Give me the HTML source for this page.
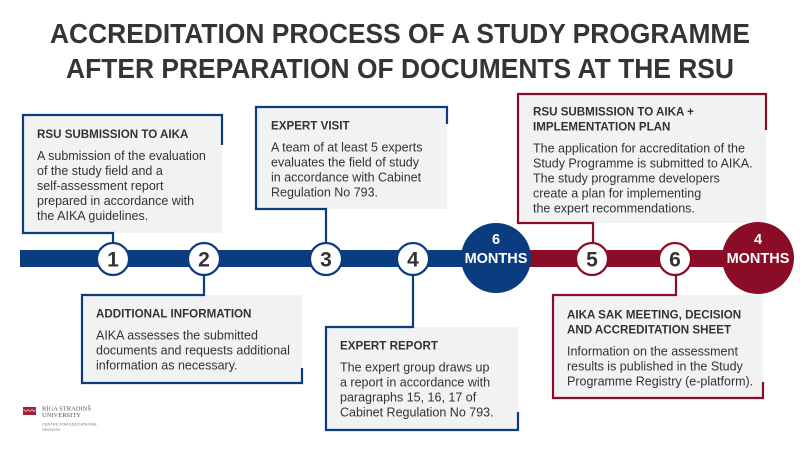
<!DOCTYPE html>
<html>
<head>
<meta charset="utf-8">
<style>
html,body{margin:0;padding:0;background:#fff;}
svg{display:block;}
</style>
</head>
<body>
<svg width="800" height="450" viewBox="0 0 800 450" xmlns="http://www.w3.org/2000/svg">
  <rect width="800" height="450" fill="#ffffff"/>

  <!-- Title -->
  <g font-family="Liberation Sans, sans-serif" font-weight="bold" font-size="28" fill="#343434">
    <text x="50" y="43" textLength="700" lengthAdjust="spacingAndGlyphs">ACCREDITATION PROCESS OF A STUDY PROGRAMME</text>
    <text x="66" y="78" textLength="668" lengthAdjust="spacingAndGlyphs">AFTER PREPARATION OF DOCUMENTS AT THE RSU</text>
  </g>

  <!-- Box fills -->
  <g fill="#f2f2f2">
    <rect x="23" y="115" width="199" height="118"/>
    <rect x="256" y="107" width="191" height="102"/>
    <rect x="518" y="94" width="248" height="129"/>
    <rect x="82" y="295" width="220" height="88"/>
    <rect x="326" y="327" width="192" height="103"/>
    <rect x="553" y="295" width="210" height="103"/>
  </g>

  <!-- Box borders / connectors -->
  <g fill="none" stroke-width="2.2" stroke-linejoin="miter">
    <path d="M113,245 V233 H23 V115 H222 V145" stroke="#0c3c80"/>
    <path d="M326,245 V209 H256 V107 H447 V124" stroke="#0c3c80"/>
    <path d="M593,245 V223 H518 V94 H766 V130" stroke="#8b0c26"/>
    <path d="M204,273 V295 H82 V383 H302 V368" stroke="#0c3c80"/>
    <path d="M413,273 V327 H326 V430 H518 V412" stroke="#0c3c80"/>
    <path d="M676,273 V295 H553 V398 H763 V382" stroke="#8b0c26"/>
  </g>

  <!-- Timeline bar -->
  <rect x="20" y="250" width="478" height="17" fill="#0c3c80"/>
  <rect x="496" y="250" width="262" height="17" fill="#8b0c26"/>

  <!-- Big circles -->
  <circle cx="496" cy="258" r="35" fill="#0c3c80"/>
  <circle cx="758" cy="258" r="36" fill="#8b0c26"/>
  <g font-family="Liberation Sans, sans-serif" font-weight="bold" fill="#ffffff" text-anchor="middle">
    <text x="496" y="244" font-size="14.5">6</text>
    <text x="496" y="263" font-size="14.5">MONTHS</text>
    <text x="758" y="244" font-size="14.5">4</text>
    <text x="758" y="263" font-size="14.5">MONTHS</text>
  </g>

  <!-- Numbered circles -->
  <g stroke-width="2.2" fill="#ffffff">
    <circle cx="113" cy="259" r="16" stroke="#0c3c80"/>
    <circle cx="204" cy="259" r="16" stroke="#0c3c80"/>
    <circle cx="326" cy="259" r="16" stroke="#0c3c80"/>
    <circle cx="413" cy="259" r="16" stroke="#0c3c80"/>
    <circle cx="592" cy="259" r="16" stroke="#8b0c26"/>
    <circle cx="675" cy="259" r="16" stroke="#8b0c26"/>
  </g>
  <g font-family="Liberation Sans, sans-serif" font-weight="bold" font-size="21" fill="#333333" text-anchor="middle">
    <text x="113" y="266.5">1</text>
    <text x="204" y="266.5">2</text>
    <text x="326" y="266.5">3</text>
    <text x="413" y="266.5">4</text>
    <text x="592" y="266.5">5</text>
    <text x="675" y="266.5">6</text>
  </g>

  <!-- Box texts -->
  <g font-family="Liberation Sans, sans-serif" fill="#333333">
    <!-- Box 1 -->
    <text x="37" y="138" font-size="11.6" font-weight="bold">RSU SUBMISSION TO AIKA</text>
    <g font-size="12.5">
      <text x="37" y="160">A submission of the evaluation</text>
      <text x="37" y="175">of the study field and a</text>
      <text x="37" y="190">self-assessment report</text>
      <text x="37" y="205">prepared in accordance with</text>
      <text x="37" y="220">the AIKA guidelines.</text>
    </g>

    <!-- Box 3 -->
    <text x="271" y="129.5" font-size="11.6" font-weight="bold">EXPERT VISIT</text>
    <g font-size="12.5">
      <text x="271" y="151.5">A team of at least 5 experts</text>
      <text x="271" y="166.5">evaluates the field of study</text>
      <text x="271" y="181.5">in accordance with Cabinet</text>
      <text x="271" y="196.5">Regulation No 793.</text>
    </g>

    <!-- Box 5 -->
    <text x="533" y="115.5" font-size="11.6" font-weight="bold">RSU SUBMISSION TO AIKA +</text>
    <text x="533" y="130.5" font-size="11.6" font-weight="bold">IMPLEMENTATION PLAN</text>
    <g font-size="12.5">
      <text x="533" y="152.5">The application for accreditation of the</text>
      <text x="533" y="167.5">Study Programme is submitted to AIKA.</text>
      <text x="533" y="182.5">The study programme developers</text>
      <text x="533" y="197.5">create a plan for implementing</text>
      <text x="533" y="212.5">the expert recommendations.</text>
    </g>

    <!-- Box 2 -->
    <text x="96" y="317.5" font-size="11.6" font-weight="bold">ADDITIONAL INFORMATION</text>
    <g font-size="12.5">
      <text x="96" y="339.5">AIKA assesses the submitted</text>
      <text x="96" y="354.5">documents and requests additional</text>
      <text x="96" y="369.5">information as necessary.</text>
    </g>

    <!-- Box 4 -->
    <text x="340" y="349.5" font-size="11.6" font-weight="bold">EXPERT REPORT</text>
    <g font-size="12.5">
      <text x="340" y="371.5">The expert group draws up</text>
      <text x="340" y="386.5">a report in accordance with</text>
      <text x="340" y="401.5">paragraphs 15, 16, 17 of</text>
      <text x="340" y="416.5">Cabinet Regulation No 793.</text>
    </g>

    <!-- Box 6 -->
    <text x="567" y="318.5" font-size="11.6" font-weight="bold">AIKA SAK MEETING, DECISION</text>
    <text x="567" y="333.5" font-size="11.6" font-weight="bold">AND ACCREDITATION SHEET</text>
    <g font-size="12.5">
      <text x="567" y="355.5">Information on the assessment</text>
      <text x="567" y="370.5">results is published in the Study</text>
      <text x="567" y="385.5">Programme Registry (e-platform).</text>
    </g>
  </g>

  <!-- Logo -->
  <rect x="23" y="407" width="13" height="8" fill="#a3203a"/>
  <path d="M23.5,409.5 L26,411.5 L28,409.5 L30,411.5 L32,409.5 L34,411.5 L35.5,409.5" fill="none" stroke="#ffffff" stroke-width="0.6"/>
  <g font-family="Liberation Serif, serif" fill="#555555">
    <text x="42" y="410.5" font-size="6.5">RĪGA STRADIŅŠ</text>
    <text x="42" y="417" font-size="6.5">UNIVERSITY</text>
  </g>
  <g font-family="Liberation Sans, sans-serif" fill="#777777">
    <text x="42" y="425.5" font-size="4">CENTRE FOR EDUCATIONAL</text>
    <text x="42" y="431" font-size="4">GROWTH</text>
  </g>
</svg>
</body>
</html>
